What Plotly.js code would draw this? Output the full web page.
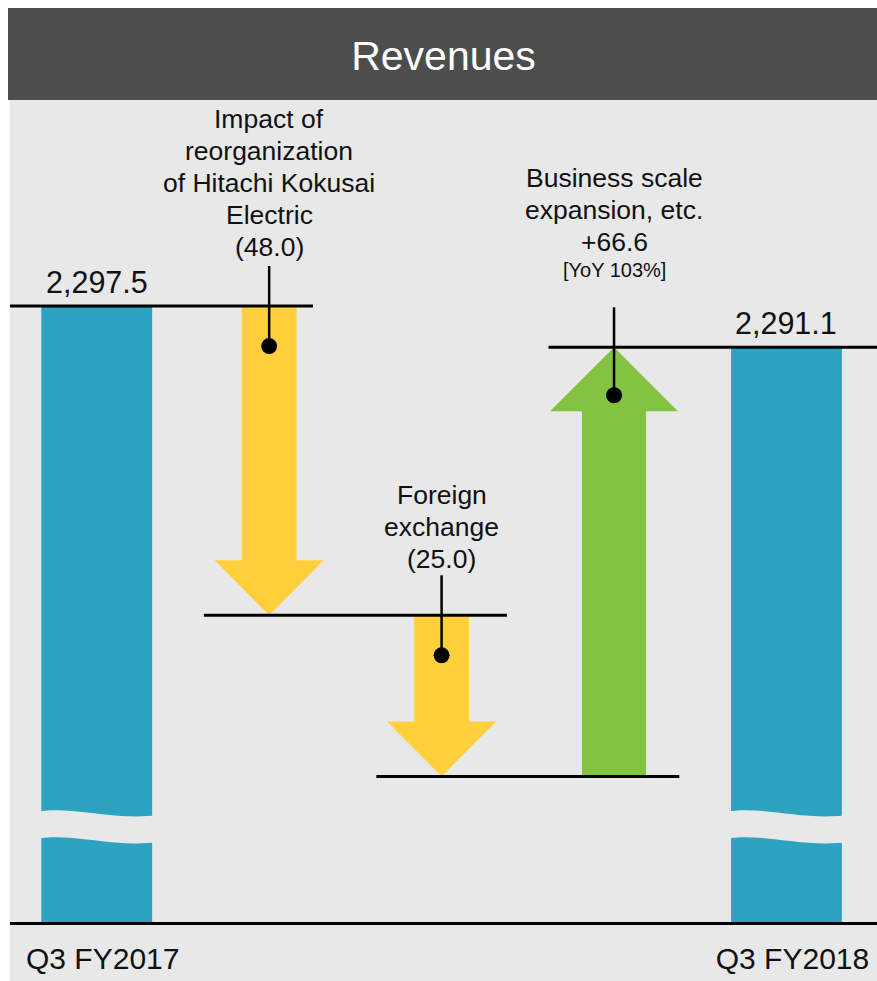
<!DOCTYPE html>
<html><head><meta charset="utf-8">
<script src="https://cdn.plot.ly/plotly-3.0.1.min.js"></script>
<style>html,body{margin:0;padding:0;background:#fff;} #chart{width:877px;height:981px;}</style>
</head><body><div id="chart"></div>
<script>
// ---- data ----
const categories = ['Q3 FY2017', 'Impact of reorganization of Hitachi Kokusai Electric', 'Foreign exchange', 'Business scale expansion, etc.', 'Q3 FY2018'];
const tickLabels = ['Q3 FY2017', '', '', '', 'Q3 FY2018'];
const startTotal = 2297.5;
const endTotal = 2291.1;
const changes = [-48.0, -25.0, 66.6];
const changeLabelLines = [['Impact of', 'reorganization', 'of Hitachi Kokusai', 'Electric'], ['Foreign', 'exchange'], ['Business scale', 'expansion, etc.']];
const changeNotes = ['', '', '[YoY 103%]'];
const chartTitle = 'Revenues';

// ---- styles ----
const FONT = '"Liberation Sans", Arial, Helvetica, sans-serif';
const BLUE = '#2ca3c1', YELLOW = '#ffd03c', GREEN = '#82c341', PANEL = '#e8e8e8', HEADER = '#4d4d4d';
const W = 877, H = 981, ML = 10, MB = 59;
const plotW = W - ML, plotH = H - MB;
const xRange = [-0.503, 4.525];
const yRange = [2201.9, 2345.0];
const pxY = (yRange[1] - yRange[0]) / plotH; // data units per pixel
const pxX = (xRange[1] - xRange[0]) / plotW;

// ---- derived levels ----
const levels = [startTotal];
changes.forEach((c, k) => levels.push(Math.round((levels[k] + c) * 10) / 10));
const fmtTotal = v => v.toLocaleString('en-US', {minimumFractionDigits: 1, maximumFractionDigits: 1});
const fmtChange = c => c < 0 ? '(' + Math.abs(c).toFixed(1) + ')' : '+' + c.toFixed(1);

const traces = [];
traces.push({
  type: 'bar', x: [0, 4], y: [startTotal, endTotal], width: 0.643,
  marker: {color: BLUE, line: {width: 0}}, hoverinfo: 'skip'
});

// arrows
changes.forEach((c, k) => {
  const i = k + 1;
  const from = levels[k], to = levels[k + 1];
  const up = c > 0;
  const s = up ? 0.186 : 0.159, h = up ? 0.371 : 0.316;
  const L = (up ? 64 : 55) * pxY * (up ? 1 : -1);
  const xs = [i - s, i + s, i + s, i + h, i, i - h, i - s, i - s];
  const ys = [from, from, to - L, to - L, to, to - L, to - L, from];
  traces.push({type: 'scatter', mode: 'lines', x: xs, y: ys, fill: 'toself',
    fillcolor: up ? GREEN : YELLOW, line: {width: 0, color: up ? GREEN : YELLOW}, hoverinfo: 'skip'});
});

// level lines (each ~303px long)
const lineLen = 303 * pxX;
for (let k = 0; k < levels.length; k++) {
  let x0, x1;
  if (k === 0) { x0 = xRange[0]; x1 = xRange[0] + lineLen; }
  else if (k === levels.length - 1) { x0 = k - 0.38; x1 = xRange[1]; }
  else { x0 = k + 0.5 - lineLen / 2; x1 = k + 0.5 + lineLen / 2; }
  traces.push({type: 'scatter', mode: 'lines', x: [x0, x1], y: [levels[k], levels[k]],
    line: {color: '#000', width: 3}, hoverinfo: 'skip'});
}

// pointers and labels
const annotations = [];
const lastLineOffset = [19, 16, 37];
changes.forEach((c, k) => {
  const i = k + 1;
  const upper = Math.max(levels[k], levels[k + 1]);
  const top = upper + 40 * pxY;
  const dot = upper - (c > 0 ? 48 : 40) * pxY;
  traces.push({type: 'scatter', mode: 'lines', x: [i, i], y: [top, dot],
    line: {color: '#000', width: 2.5}, hoverinfo: 'skip'});
  traces.push({type: 'scatter', mode: 'markers', x: [i], y: [dot],
    marker: {size: 16, color: '#000', opacity: 1, line: {width: 0}}, hoverinfo: 'skip'});
  const lines = changeLabelLines[k].concat([fmtChange(c)]);
  let shift = lastLineOffset[k];
  if (changeNotes[k]) {
    annotations.push({x: i, y: top, xref: 'x', yref: 'y', text: changeNotes[k], showarrow: false,
      yanchor: 'middle', xanchor: 'center', yshift: shift, font: {family: FONT, size: 20, color: '#111'}});
    shift += 28;
  }
  for (let j = lines.length - 1; j >= 0; j--) {
    annotations.push({x: i, y: top, xref: 'x', yref: 'y', text: lines[j], showarrow: false,
      yanchor: 'middle', xanchor: 'center', yshift: shift, font: {family: FONT, size: 26.5, color: '#111'}});
    shift += 32;
  }
});

// total labels
[[0, startTotal], [4, endTotal]].forEach(([i, v]) => {
  annotations.push({x: i, y: v, xref: 'x', yref: 'y', text: fmtTotal(v), showarrow: false,
    yanchor: 'middle', xanchor: 'center', yshift: 24, font: {family: FONT, size: 30.5, color: '#111'}});
});

const wave = 'M-62,110 C-25,117 15,101 62,107 L62,80 C15,74 -25,90 -62,83 Z';
const shapes = [
  {type: 'rect', xref: 'paper', yref: 'paper', x0: 0, x1: 1, y0: -MB / plotH, y1: (plotH - 100) / plotH,
    fillcolor: PANEL, line: {width: 0}, layer: 'below'},
  {type: 'rect', xref: 'paper', yref: 'paper', x0: -2 / plotW, x1: 1, y0: (plotH - 100) / plotH, y1: (plotH - 8) / plotH,
    fillcolor: HEADER, line: {width: 0}, layer: 'below'},
  {type: 'path', xref: 'x', yref: 'paper', xsizemode: 'pixel', ysizemode: 'pixel', xanchor: 0, yanchor: 0,
    path: wave, fillcolor: PANEL, line: {width: 0}, layer: 'above'},
  {type: 'path', xref: 'x', yref: 'paper', xsizemode: 'pixel', ysizemode: 'pixel', xanchor: 4, yanchor: 0,
    path: wave, fillcolor: PANEL, line: {width: 0}, layer: 'above'}
];

const layout = {
  width: W, height: H,
  margin: {l: ML, r: 0, t: 0, b: MB, pad: 0},
  paper_bgcolor: '#ffffff', plot_bgcolor: 'rgba(0,0,0,0)',
  showlegend: false,
  title: {text: chartTitle, font: {family: FONT, size: 41, color: '#ffffff'},
    x: 0.5, xref: 'paper', xanchor: 'center', y: 1 - 56 / H, yref: 'container', yanchor: 'middle'},
  xaxis: {range: xRange, tickvals: [0, 1, 2, 3, 4], ticktext: tickLabels, showgrid: false, zeroline: false,
    showline: true, linecolor: '#000', linewidth: 3, ticks: '', ticklabelstandoff: 8, ticklabelshift: 6,
    tickfont: {family: FONT, size: 30, color: '#111'}, fixedrange: true},
  yaxis: {range: yRange, visible: false, fixedrange: true},
  shapes: shapes,
  annotations: annotations,
  font: {family: FONT}
};

Plotly.newPlot('chart', traces, layout, {displayModeBar: false, staticPlot: true});
</script>
</body></html>
